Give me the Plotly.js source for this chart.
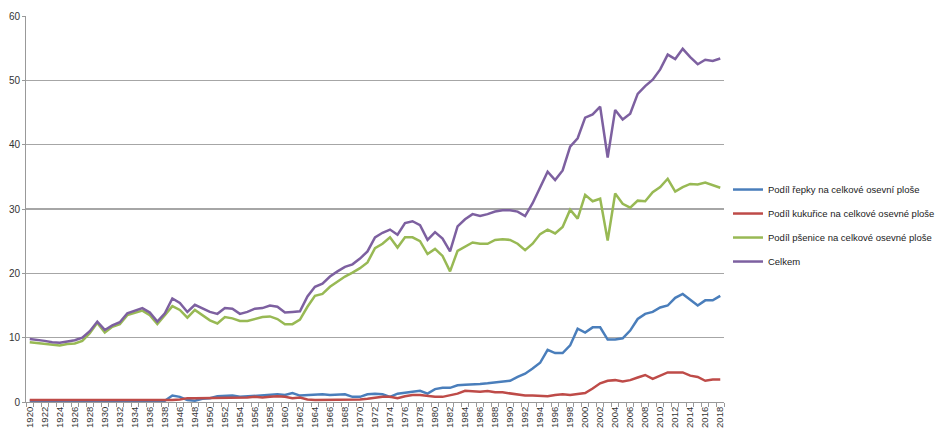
<!DOCTYPE html>
<html>
<head>
<meta charset="utf-8">
<script src="https://cdn.plot.ly/plotly-3.0.1.min.js"></script>
<style>html,body{margin:0;padding:0;background:#fff;}#chart{width:935px;height:445px;}</style>
</head>
<body>
<div id="chart"></div>
<script>
const years = ["1920","1921","1922","1923","1924","1925","1926","1927","1928","1929","1930","1931","1932","1933","1934","1935","1936","1937","1938","1945",
"1946","1947","1948","1949","1950","1951","1952","1953","1954","1955","1956","1957","1958","1959","1960","1961","1962",
"1963","1964","1965","1966","1967","1968","1969","1970","1971","1972","1973","1974","1975","1976","1977","1978","1979","1980","1981","1982","1983","1984","1985","1986","1987","1988",
"1989","1990","1991","1992","1993","1994","1995","1996","1997","1998","1999","2000","2001","2002","2003","2004","2005","2006","2007","2008","2009","2010","2011","2012","2013","2014","2015","2016","2017","2018"];

const repka = [0.2,0.2,0.2,0.2,0.2,0.2,0.2,0.2,0.2,0.2,0.2,0.2,0.2,0.2,0.2,0.2,0.2,0.2,0.2,
1.0,
0.8,0.3,0.2,0.5,0.6,0.9,1.0,1.0,0.8,0.9,1.0,1.1,1.2,1.2,1.1,1.4,1.0,
1.1,1.2,1.2,1.1,1.2,1.2,0.8,0.8,1.2,1.3,1.2,0.8,1.3,1.4,1.6,1.75,1.3,2.0,2.2,2.2,2.6,2.7,2.7,2.8,2.9,3.0,
3.1,3.3,3.9,4.4,5.2,6.1,8.1,7.6,7.6,8.8,11.4,10.8,11.6,11.6,9.7,9.7,9.9,11.1,12.9,13.7,14.0,14.7,15.0,16.2,16.8,15.9,15.0,15.8,15.8,16.5];

const kukurice = [0.3,0.3,0.3,0.3,0.3,0.3,0.3,0.3,0.3,0.2,0.3,0.2,0.2,0.2,0.2,0.2,0.3,0.3,0.3,
0.3,
0.4,0.6,0.6,0.6,0.6,0.7,0.7,0.7,0.7,0.7,0.8,0.7,0.8,0.9,0.8,0.6,0.7,
0.4,0.3,0.3,0.3,0.3,0.3,0.3,0.4,0.5,0.7,0.8,0.8,0.6,0.9,1.1,1.1,0.9,0.8,0.8,1.0,1.3,1.75,1.7,1.6,1.7,1.5,
1.5,1.3,1.1,1.0,1.0,1.0,0.9,1.1,1.2,1.1,1.2,1.4,2.1,2.9,3.3,3.4,3.2,3.4,3.8,4.2,3.6,4.1,4.6,4.6,4.6,4.1,3.9,3.3,3.5,3.5];

const psenice = [9.3,9.2,9.0,8.9,8.8,9.0,9.1,9.5,10.7,12.3,10.8,11.7,12.1,13.5,13.8,14.2,13.5,12.1,13.5,
14.9,
14.3,13.1,14.3,13.5,12.7,12.2,13.2,13.0,12.6,12.6,12.9,13.2,13.3,12.9,12.1,12.1,12.8,
14.8,16.5,16.8,17.9,18.7,19.5,20.1,20.8,21.7,23.9,24.6,25.6,24.0,25.6,25.6,25.0,23.0,23.8,22.7,20.3,23.5,24.1,24.8,24.6,24.6,25.2,
25.3,25.2,24.6,23.6,24.6,26.1,26.8,26.2,27.2,29.9,28.5,32.2,31.2,31.6,25.1,32.4,30.8,30.2,31.3,31.2,32.6,33.4,34.7,32.7,33.4,33.9,33.8,34.1,33.7,33.3];

const celkem = [9.8,9.7,9.5,9.3,9.2,9.4,9.6,10.0,11.0,12.5,11.2,11.9,12.4,13.8,14.2,14.6,13.9,12.5,13.8,
16.1,
15.4,14.0,15.1,14.5,14.0,13.7,14.6,14.5,13.7,14.0,14.5,14.6,15.0,14.8,13.9,14.0,14.1,
16.4,17.9,18.4,19.5,20.3,21.0,21.4,22.3,23.4,25.6,26.3,26.8,26.0,27.8,28.1,27.5,25.2,26.4,25.4,23.4,27.3,28.4,29.2,28.9,29.2,29.6,
29.8,29.8,29.6,28.9,30.9,33.4,35.8,34.5,36.0,39.7,41.0,44.2,44.7,45.9,38.0,45.4,43.9,44.8,47.9,49.1,50.1,51.7,54.0,53.3,54.9,53.6,52.5,53.2,53.0,53.4];

const seriesNames = ["Podíl řepky na celkové osevní ploše","Podíl kukuřice na celkové osevné ploše","Podíl pšenice na celkové osevné ploše","Celkem"];
const seriesColors = ["#4A7EBB","#BE4B48","#98B954","#7D60A0"];
const seriesData = [repka, kukurice, psenice, celkem];

const traces = seriesData.map((vals, k) => ({
  type: "scatter",
  mode: "lines",
  x: years,
  y: vals,
  name: seriesNames[k],
  legendgroup: "g" + k,
  line: {color: seriesColors[k], width: 2.5},
  hoverinfo: "skip"
}));

const tickText = years.map((y, i) => (i % 2 === 0 ? y : ""));

const layout = {
  width: 935,
  height: 445,
  margin: {l: 26, r: 211, t: 16, b: 43, pad: 0, autoexpand: false},
  paper_bgcolor: "#ffffff",
  plot_bgcolor: "#ffffff",
  font: {family: "Liberation Sans, Arial, sans-serif", size: 10, color: "#333333"},
  showlegend: true,
  legend: {
    x: 1.0057, xanchor: "left",
    y: 0.588, yanchor: "top",
    traceorder: "grouped",
    tracegroupgap: 5,
    font: {family: "Liberation Sans, Arial, sans-serif", size: 9.5, color: "#222222"},
    bgcolor: "rgba(0,0,0,0)",
    itemwidth: 30
  },
  xaxis: {
    type: "category",
    categoryorder: "array",
    categoryarray: years,
    tickmode: "array",
    tickvals: years,
    ticktext: tickText,
    tickson: "boundaries",
    ticks: "outside",
    ticklen: 4,
    tickcolor: "#999999",
    tickangle: -90,
    tickfont: {size: 9.5, color: "#333333"},
    showline: true,
    linecolor: "#999999",
    linewidth: 1,
    showgrid: false,
    zeroline: false,
    fixedrange: true,
    range: [-0.5, years.length - 0.5]
  },
  yaxis: {
    range: [0, 60],
    tickmode: "linear",
    tick0: 0,
    dtick: 10,
    ticks: "outside",
    ticklen: 3,
    tickcolor: "#999999",
    showline: true,
    linecolor: "#999999",
    linewidth: 1,
    showgrid: true,
    gridcolor: "#a6a6a6",
    gridwidth: 1.3,
    zeroline: false,
    tickfont: {size: 10, color: "#333333"},
    fixedrange: true
  }
};

Plotly.newPlot("chart", traces, layout, {displayModeBar: false, staticPlot: true});
</script>
</body>
</html>
